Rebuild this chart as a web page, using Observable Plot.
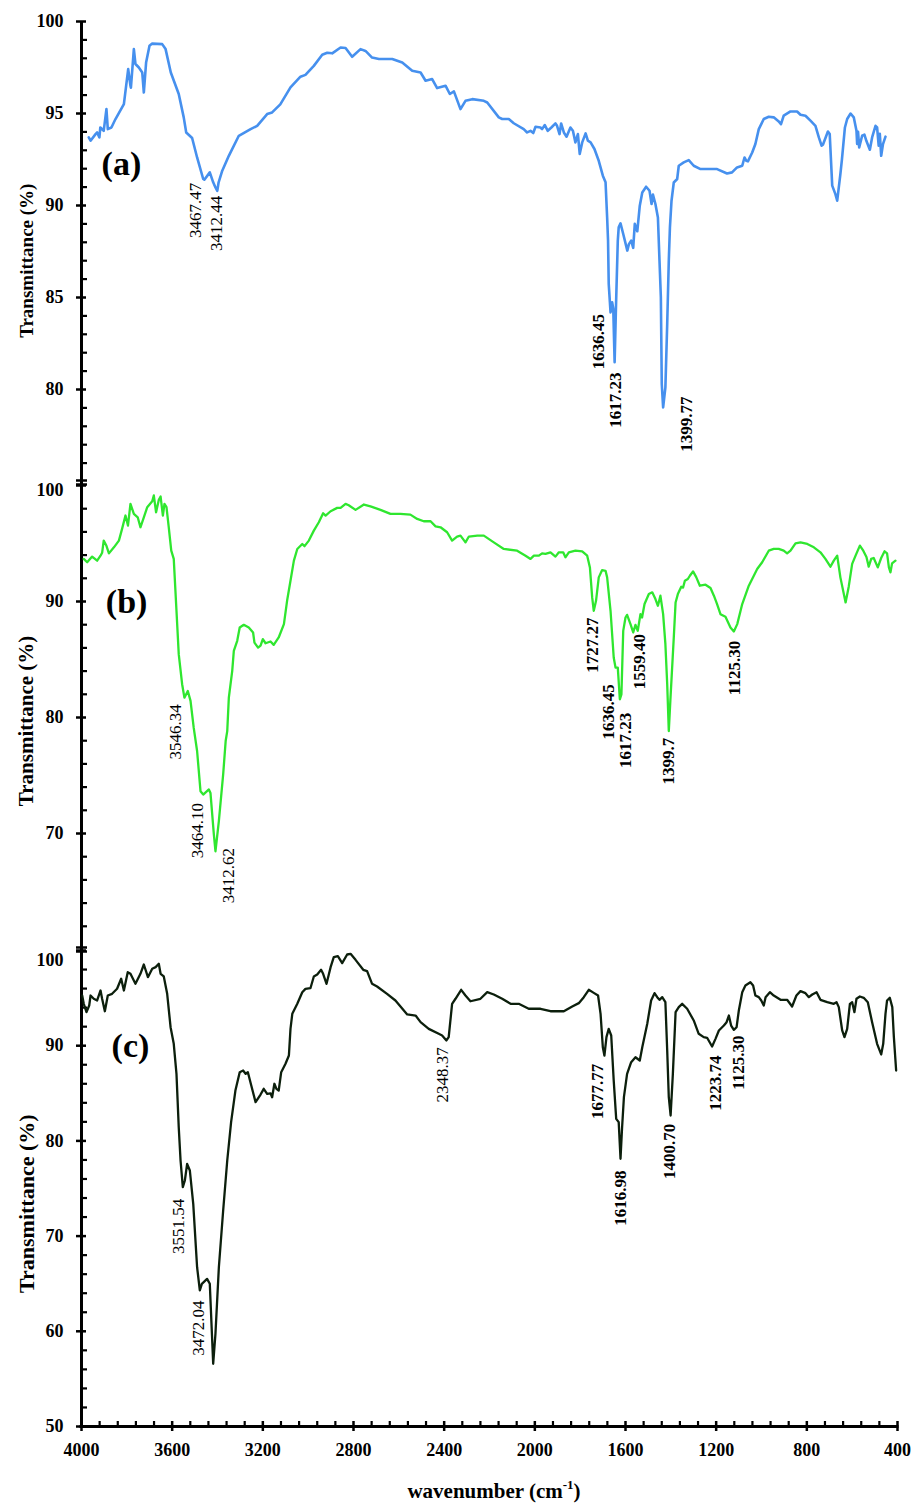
<!DOCTYPE html>
<html><head><meta charset="utf-8">
<script src="https://cdn.jsdelivr.net/npm/d3@7"></script>
<script src="https://cdn.jsdelivr.net/npm/@observablehq/plot@0.6"></script>
<style>
body{margin:0;background:#fff;}
#chart{position:relative;width:912px;height:1503px;font-family:"Liberation Serif","Times New Roman",serif;}
#chart svg{display:block;}
#xtitle{position:absolute;left:0;top:1481px;width:912px;padding-left:76px;box-sizing:border-box;text-align:center;font-weight:bold;font-size:21px;line-height:1;color:#000;}
#xtitle sup{font-size:13px;line-height:0;position:relative;top:-1px;}
</style></head><body><div id="chart"></div>
<script>
// ---------- data (wavenumber cm-1, transmittance %) ----------
const spectrumA = [[3968,93.70],[3960,93.52],[3938,93.88],[3931,93.97],[3921,93.70],[3917,94.24],[3902,94.06],[3890,95.24],[3884,94.15],[3868,94.24],[3850,94.70],[3813,95.51],[3794,97.41],[3784,96.51],[3782,96.40],[3769,98.50],[3762,97.69],[3747,97.50],[3732,97.23],[3725,96.14],[3715,97.77],[3700,98.68],[3688,98.80],[3644,98.77],[3629,98.50],[3606,97.23],[3571,96.06],[3549,94.79],[3538,93.97],[3512,93.67],[3490,92.61],[3463,91.44],[3458,91.40],[3434,91.80],[3419,91.26],[3409,90.98],[3401,90.80],[3395,91.26],[3379,91.89],[3350,92.70],[3306,93.79],[3254,94.15],[3225,94.33],[3181,94.97],[3159,95.06],[3123,95.50],[3078,96.42],[3034,97.00],[3012,97.10],[2975,97.59],[2938,98.19],[2916,98.30],[2894,98.27],[2857,98.59],[2835,98.56],[2806,98.08],[2769,98.50],[2747,98.40],[2718,98.04],[2688,97.96],[2629,97.96],[2585,97.77],[2541,97.32],[2504,97.23],[2482,96.78],[2453,96.87],[2431,96.38],[2394,96.51],[2375,96.06],[2357,96.20],[2328,95.24],[2306,95.69],[2276,95.78],[2225,95.69],[2210,95.60],[2159,94.79],[2144,94.70],[2115,94.70],[2093,94.47],[2049,94.15],[2034,93.97],[2019,94.06],[2007,93.94],[1997,94.28],[1975,94.24],[1968,94.15],[1956,94.37],[1943,94.06],[1927,94.24],[1909,94.46],[1902,94.33],[1891,93.88],[1884,94.46],[1872,93.97],[1860,93.74],[1843,94.24],[1832,94.06],[1821,93.43],[1810,93.88],[1802,92.80],[1791,93.43],[1776,93.92],[1766,93.52],[1754,93.43],[1737,93.07],[1718,92.43],[1700,91.62],[1688,91.26],[1681,89.35],[1677,88.09],[1674,85.74],[1666,84.19],[1659,84.74],[1654,84.40],[1648,81.48],[1642,84.50],[1634,88.09],[1630,88.81],[1622,89.03],[1610,88.45],[1592,87.55],[1585,87.90],[1575,88.09],[1566,87.70],[1559,89.00],[1548,88.60],[1537,89.99],[1526,90.71],[1509,91.02],[1494,90.80],[1485,90.08],[1479,90.60],[1468,90.08],[1457,89.35],[1450,87.00],[1444,85.00],[1440,80.30],[1434,79.03],[1424,80.12],[1416,83.56],[1409,87.00],[1404,88.81],[1397,90.26],[1387,91.25],[1372,91.44],[1365,92.16],[1343,92.34],[1321,92.47],[1299,92.16],[1269,91.98],[1250,91.98],[1196,91.98],[1152,91.74],[1130,91.80],[1108,92.07],[1085,92.16],[1075,92.61],[1067,92.43],[1060,92.40],[1041,92.88],[1027,93.34],[1012,94.15],[990,94.70],[968,94.82],[946,94.79],[924,94.57],[914,94.42],[902,94.88],[872,95.11],[843,95.11],[828,94.93],[806,94.88],[784,94.61],[762,94.33],[747,93.70],[735,93.25],[729,93.30],[707,94.02],[699,93.88],[688,91.08],[674,90.62],[666,90.26],[652,91.71],[645,92.52],[632,94.24],[622,94.70],[607,95.00],[593,94.79],[581,94.06],[578,93.34],[574,94.00],[569,93.16],[556,93.79],[546,93.85],[537,93.50],[522,93.03],[512,93.70],[497,94.33],[490,94.24],[483,93.25],[478,93.90],[472,92.70],[464,93.34],[453,93.74]];

const spectrumB = [[3990,93.67],[3975,93.38],[3953,93.87],[3931,93.52],[3916,93.95],[3909,94.20],[3902,95.25],[3890,94.80],[3879,94.15],[3857,94.67],[3835,95.25],[3821,96.26],[3806,97.41],[3795,96.55],[3784,98.42],[3769,97.55],[3752,97.26],[3740,96.40],[3725,97.26],[3710,98.13],[3688,98.64],[3681,99.14],[3671,97.69],[3659,98.76],[3651,99.05],[3641,97.41],[3634,98.42],[3625,98.13],[3615,96.40],[3604,94.38],[3593,93.67],[3581,89.20],[3571,85.46],[3556,82.87],[3546,81.71],[3531,82.29],[3519,81.43],[3505,79.12],[3490,77.11],[3475,73.65],[3463,73.36],[3438,73.80],[3431,73.50],[3416,69.91],[3409,68.47],[3394,71.06],[3375,75.09],[3364,77.97],[3357,78.83],[3350,81.71],[3335,84.02],[3328,85.75],[3313,86.61],[3302,87.76],[3284,87.99],[3262,87.76],[3243,87.33],[3237,86.46],[3221,86.03],[3210,86.20],[3200,86.75],[3188,86.40],[3166,86.55],[3152,86.26],[3130,86.90],[3107,88.05],[3093,90.06],[3078,91.79],[3063,93.52],[3048,94.53],[3026,94.96],[3016,94.77],[2997,95.25],[2975,96.11],[2953,96.83],[2934,97.61],[2923,97.40],[2901,97.78],[2872,98.07],[2857,98.07],[2835,98.42],[2821,98.30],[2791,97.90],[2754,98.36],[2725,98.20],[2681,97.90],[2637,97.55],[2593,97.55],[2549,97.49],[2519,97.12],[2490,96.92],[2460,96.92],[2438,96.48],[2416,96.40],[2387,95.97],[2365,95.25],[2343,95.60],[2328,95.68],[2306,95.10],[2291,95.60],[2254,95.68],[2225,95.68],[2181,95.10],[2137,94.53],[2078,94.38],[2041,93.95],[2019,93.67],[2004,93.95],[1982,93.95],[1968,94.15],[1953,94.10],[1931,94.24],[1909,93.87],[1894,94.24],[1875,94.24],[1865,93.81],[1850,94.24],[1821,94.38],[1791,94.32],[1769,93.95],[1757,92.94],[1747,90.35],[1740,89.20],[1730,90.06],[1718,92.08],[1703,92.71],[1688,92.65],[1681,92.08],[1666,89.20],[1652,85.17],[1644,84.30],[1634,84.30],[1625,81.57],[1618,82.00],[1610,87.47],[1600,88.62],[1593,88.85],[1578,88.05],[1566,87.33],[1556,87.99],[1546,87.47],[1534,88.91],[1527,88.62],[1516,89.78],[1497,90.64],[1482,90.79],[1468,90.21],[1457,89.63],[1446,90.50],[1434,88.91],[1424,86.32],[1416,82.87],[1409,78.83],[1402,81.50],[1387,86.90],[1379,89.92],[1369,90.64],[1354,91.27],[1346,91.20],[1338,91.79],[1325,91.94],[1316,92.22],[1302,92.60],[1288,92.10],[1272,91.36],[1247,91.45],[1225,91.16],[1210,90.50],[1196,89.78],[1181,88.91],[1159,88.68],[1137,87.76],[1122,87.42],[1107,88.05],[1085,89.78],[1056,91.36],[1019,92.80],[997,93.38],[968,94.38],[946,94.53],[924,94.53],[902,94.38],[887,94.15],[872,94.38],[850,95.02],[828,95.10],[798,94.96],[769,94.67],[740,94.24],[718,93.67],[696,93.00],[681,93.52],[666,93.95],[652,92.08],[629,89.92],[615,91.30],[600,93.24],[585,93.95],[566,94.82],[551,94.38],[537,93.84],[527,93.00],[516,93.67],[505,93.75],[487,92.94],[472,93.75],[457,94.33],[446,94.15],[438,92.94],[431,92.51],[424,93.29],[409,93.52]];

const spectrumC = [[3997,95.27],[3990,94.40],[3978,93.52],[3966,94.22],[3960,95.27],[3946,94.93],[3931,94.75],[3916,95.80],[3909,94.93],[3897,93.62],[3884,95.27],[3865,95.45],[3843,95.98],[3825,97.03],[3813,95.80],[3796,97.72],[3784,97.55],[3762,96.50],[3740,97.55],[3725,98.53],[3707,97.20],[3688,98.08],[3673,98.25],[3659,98.60],[3651,97.55],[3637,97.27],[3622,95.45],[3607,91.94],[3593,90.20],[3581,87.05],[3571,81.44],[3563,77.94],[3553,75.14],[3544,75.84],[3534,77.59],[3522,76.89],[3507,73.39],[3490,66.73],[3478,64.29],[3469,64.99],[3446,65.51],[3434,64.99],[3419,56.59],[3409,59.74],[3394,66.73],[3375,72.69],[3357,77.94],[3340,81.97],[3321,85.29],[3302,87.22],[3287,87.39],[3276,87.05],[3266,87.22],[3251,85.82],[3232,84.07],[3210,84.87],[3196,85.47],[3181,84.94],[3166,85.00],[3159,84.59],[3149,86.00],[3140,85.47],[3130,85.29],[3119,87.22],[3100,88.10],[3085,88.97],[3078,91.77],[3070,93.35],[3048,94.40],[3026,95.62],[3012,95.97],[2990,96.04],[2975,97.27],[2960,97.48],[2943,97.97],[2934,97.55],[2919,96.50],[2901,98.25],[2887,99.30],[2869,99.40],[2850,98.67],[2828,99.58],[2813,99.65],[2791,99.02],[2757,97.97],[2740,97.83],[2718,96.50],[2696,96.22],[2652,95.45],[2615,94.75],[2563,93.28],[2526,93.17],[2504,92.47],[2468,91.77],[2424,91.25],[2409,91.07],[2390,90.55],[2380,90.90],[2365,94.40],[2350,94.93],[2325,95.87],[2306,95.27],[2284,94.67],[2240,94.93],[2210,95.62],[2181,95.38],[2144,94.93],[2107,94.40],[2071,94.40],[2027,93.88],[1975,93.88],[1931,93.62],[1872,93.62],[1835,94.12],[1806,94.47],[1784,95.10],[1762,95.87],[1740,95.55],[1721,95.27],[1710,93.35],[1700,89.84],[1693,88.97],[1684,90.90],[1674,91.77],[1663,91.07],[1652,86.34],[1641,82.32],[1630,81.97],[1622,78.12],[1615,81.44],[1607,84.59],[1593,87.05],[1575,88.27],[1556,88.79],[1537,88.45],[1526,89.84],[1504,92.30],[1487,94.75],[1472,95.52],[1460,95.10],[1450,94.82],[1438,95.10],[1424,94.57],[1416,89.50],[1409,84.59],[1401,82.67],[1391,87.05],[1379,93.52],[1365,94.05],[1350,94.40],[1328,93.88],[1299,92.65],[1277,91.25],[1255,90.90],[1240,90.83],[1218,89.92],[1203,90.72],[1188,91.60],[1166,92.12],[1154,92.47],[1144,93.17],[1134,92.12],[1122,91.67],[1110,91.94],[1100,93.70],[1085,95.62],[1071,96.32],[1049,96.67],[1037,96.32],[1027,95.27],[1012,95.10],[1001,94.75],[990,94.22],[982,95.10],[963,95.62],[946,95.27],[916,94.82],[887,94.82],[865,94.12],[846,95.27],[828,95.73],[806,95.52],[791,95.10],[776,95.38],[757,95.62],[740,94.82],[710,94.57],[681,94.40],[669,94.57],[659,94.05],[644,91.60],[634,90.90],[622,91.77],[610,94.40],[600,94.57],[590,93.52],[581,94.93],[566,95.17],[549,95.03],[531,94.57],[512,92.47],[490,90.20],[472,89.08],[463,90.20],[453,93.35],[446,94.75],[434,95.03],[423,94.05],[416,90.90],[406,87.39]];

// peak annotations: label text, wavenumber and transmittance where the label starts
const peaksA = [
  {label:"3467.47", wn:3497, t:91.24},
  {label:"3412.44", wn:3402, t:90.53},
  {label:"1636.45", wn:1718, t:84.11},
  {label:"1617.23", wn:1642, t:80.93},
  {label:"1399.77", wn:1331, t:79.62}
];
const peaksB = [
  {label:"3546.34", wn:3583, t:81.14},
  {label:"3464.10", wn:3490, t:72.64},
  {label:"3412.62", wn:3350, t:68.75},
  {label:"1727.27", wn:1747, t:88.62},
  {label:"1636.45", wn:1674, t:82.87},
  {label:"1617.23", wn:1598, t:80.42},
  {label:"1559.40", wn:1539, t:87.19},
  {label:"1399.7",  wn:1409, t:78.26},
  {label:"1125.30", wn:1120, t:86.61}
];
const peaksC = [
  {label:"3551.54", wn:3571, t:73.92},
  {label:"3472.04", wn:3482, t:63.24},
  {label:"2348.37", wn:2405, t:89.84},
  {label:"1677.77", wn:1722, t:88.10},
  {label:"1616.98", wn:1622, t:76.89},
  {label:"1400.70", wn:1406, t:81.80},
  {label:"1223.74", wn:1203, t:88.97},
  {label:"1125.30", wn:1100, t:91.07}
];

const panelNames = ["(a)", "(b)", "(c)"];
const panelNamePos = [[3824, 92.27], [3801, 89.98], [3784, 89.92]];
const yTitle = "Transmittance (%)";
const yTitlePos = [87.0, 79.7, 73.4];
const yTitleSize = [19, 21, 22];

const yDomains = [[75, 100], [60, 100], [50, 100]];
const yMajors = [[80, 85, 90, 95, 100], [70, 80, 90, 100], [50, 60, 70, 80, 90, 100]];
const yMinorSteps = [1, 2, 2];
const xMajor = [4000, 3600, 3200, 2800, 2400, 2000, 1600, 1200, 800, 400];
const xMinorStep = 80;

const colors = ["#4690ee", "#2fe62f", "#0c1f0c"];
const lineWidths = [2.6, 2.3, 2.3];

// ---------- layout ----------
const FONT = "'Liberation Serif','Times New Roman',serif";
const W = 912, ML = 81, MR = 15, PW = W - ML - MR;
const layouts = [
  {height: 483, mt: 21, mb: 2, axTop: 0, axBot: -2, topLabelDy: 0},
  {height: 466, mt: 2, mb: 0, axTop: -2, axBot: 0, topLabelDy: 5},
  {height: 521, mt: 1, mb: 44, axTop: -1, axBot: 0, topLabelDy: 10}
];
const spectra = [spectrumA, spectrumB, spectrumC];
const peaks = [peaksA, peaksB, peaksC];

const chart = document.getElementById("chart");

for (let i = 0; i < 3; i++) {
  const L = layouts[i];
  const FH = L.height - L.mt - L.mb;
  const [y0, y1] = yDomains[i];
  const yMinor = d3.range(y0, y1 + 0.001, yMinorSteps[i]).filter(v => !yMajors[i].includes(v) && v !== y0);
  const isLast = i === 2;
  const tickText = {frameAnchor: "left", dx: -18, textAnchor: "end", lineAnchor: "middle", fontSize: 18, fontWeight: "bold"};
  const marks = [
    // vertical axis line
    Plot.ruleX([4000], {insetTop: L.axTop, insetBottom: L.axBot, strokeWidth: 3}),
    // y ticks
    Plot.ruleY(yMajors[i], {insetLeft: -5, insetRight: PW - 5, strokeWidth: 2.5}),
    Plot.ruleY(yMinor, {insetRight: PW - 6, strokeWidth: 2.2}),
    // y tick labels
    Plot.text(yMajors[i].filter(v => v !== y1), {y: d => d, text: d => String(d), ...tickText}),
    Plot.text(yMajors[i].filter(v => v === y1), {y: d => d, text: d => String(d), dy: L.topLabelDy, ...tickText}),
    // spectrum
    Plot.line(spectra[i], {x: d => d[0], y: d => d[1], stroke: colors[i], strokeWidth: lineWidths[i], strokeLinejoin: "round", strokeLinecap: "round"}),
    // peak labels
    Plot.text(peaks[i].filter(p => p.wn > 2000), {x: "wn", y: "t", text: "label", rotate: -90, textAnchor: "end", lineAnchor: "middle", fontSize: 17, fontWeight: "normal"}),
    Plot.text(peaks[i].filter(p => p.wn <= 2000), {x: "wn", y: "t", text: "label", rotate: -90, textAnchor: "end", lineAnchor: "middle", fontSize: 17, fontWeight: "bold"}),
    // panel name
    Plot.text([panelNames[i]], {x: () => panelNamePos[i][0], y: () => panelNamePos[i][1], text: d => d, fontSize: 34, fontWeight: "bold"}),
    // y title
    Plot.text([yTitle], {y: () => yTitlePos[i], text: d => d, frameAnchor: "left", textAnchor: "middle", lineAnchor: "middle", dx: -55, rotate: -90, fontSize: yTitleSize[i], fontWeight: "bold"})
  ];
  // axis break marks
  if (i < 2) marks.push(Plot.ruleY([y0], {dy: i === 0 ? -1 : -2, insetLeft: -5, insetRight: PW - 6, strokeWidth: 2.5}));
  if (i > 0) marks.push(Plot.ruleY([y1], {dy: i === 1 ? -1 : 1, insetLeft: -5, insetRight: PW - 6, strokeWidth: 2.5}));
  if (isLast) {
    const xMinor = d3.range(4000, 399, -xMinorStep).filter(d => !xMajor.includes(d));
    marks.push(
      Plot.ruleY([y0], {strokeWidth: 3, insetLeft: -1.5, insetRight: -1.5}),
      Plot.ruleX(xMajor, {insetTop: FH - 5, insetBottom: -5, strokeWidth: 2.5}),
      Plot.ruleX(xMinor, {insetTop: FH - 5, strokeWidth: 2.2})
    );
  }
  const svg = Plot.plot({
    width: W, height: L.height,
    marginLeft: ML, marginRight: MR, marginTop: L.mt, marginBottom: L.mb,
    style: {fontFamily: FONT, fontSize: "18px", fontWeight: "bold", color: "#000", background: "transparent", overflow: "visible"},
    x: isLast
      ? {domain: [4000, 400], ticks: xMajor, tickSize: 0, tickPadding: 17, tickFormat: "d", label: null}
      : {domain: [4000, 400], axis: null},
    y: {domain: yDomains[i], axis: null},
    marks
  });
  chart.appendChild(svg);
}

const xt = document.createElement("div");
xt.id = "xtitle";
xt.innerHTML = "wavenumber (cm<sup>-1</sup>)";
chart.appendChild(xt);
</script></body></html>
